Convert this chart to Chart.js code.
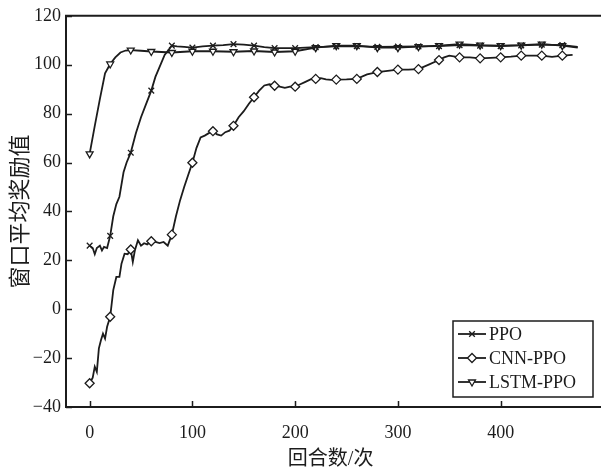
<!DOCTYPE html>
<html>
<head>
<meta charset="utf-8">
<script src="https://cdn.jsdelivr.net/npm/chart.js@4"></script>
<style>
  html, body { margin: 0; padding: 0; background: #fff; }
  #wrap { width: 601px; height: 476px; }
</style>
</head>
<body>
<div id="wrap"><canvas id="rewardChart"></canvas></div>
<script>
const xTicks = [0, 100, 200, 300, 400];
const yTicks = [-40, -20, 0, 20, 40, 60, 80, 100, 120];
const seriesNames = ['PPO', 'CNN-PPO', 'LSTM-PPO'];

const ppoX = [0, 3, 5, 7, 10, 12, 14, 17, 20, 23, 26, 29, 33, 36, 40, 45, 50, 55, 60, 64, 68, 73, 80, 85, 92, 100,
  110, 120, 130, 140, 150, 160, 170, 180, 190, 200, 220, 240, 260, 280, 300, 320, 340, 360, 380, 400, 420, 440, 460, 475];
const ppoY = [26, 25, 22.5, 25, 26, 24, 25.5, 25, 30, 38, 43, 46, 56, 60, 64, 72, 78.5, 84, 89.4, 95, 99, 104, 107.8, 107.5, 107.3, 107,
  107.5, 107.8, 108, 108.4, 108.2, 107.8, 107.2, 106.8, 106.8, 106.8, 107.2, 107.5, 107.6, 107.3, 107.4, 107.5, 107.6, 108, 107.8, 107.6, 107.9, 108.2, 108, 107.3];

const cnnX = [0, 3, 5, 7, 9, 11, 13, 15, 17, 20, 23, 26, 29, 31, 34, 37, 40, 42, 44, 47, 50, 53, 56, 60, 64, 68, 72, 76, 80,
  84, 88, 92, 96, 100, 104, 108, 112, 116, 120, 124, 128, 132, 136, 140, 145, 150, 155, 160, 165, 170, 175, 180, 185, 190, 195,
  200, 205, 210, 215, 220, 225, 230, 235, 240, 250, 260, 270, 280, 290, 300, 310, 320, 330, 340, 345, 350, 360, 370, 380, 390,
  400, 410, 420, 430, 440, 450, 460, 470];
const cnnY = [-30.3, -28, -23.5, -25.6, -16, -12.7, -10, -12, -7.2, -3.1, 7.8, 13.2, 13.2, 18.6, 22.7, 22.5, 24.4, 19.3, 24, 28.2, 26, 27, 26.5, 27.8, 27.5, 27, 27.5, 26, 30.5,
  38, 44.5, 50, 55, 59.9, 66, 70.3, 71, 72, 72.8, 71.5, 71, 72.4, 73, 75, 78.5, 81, 84, 86.7, 89.4, 91.5, 92, 91.4, 91, 90.5, 91,
  91, 92, 93, 94, 94.2, 94.5, 94, 93.8, 93.9, 94, 94.2, 96, 97, 97.5, 98, 98, 98.2, 100, 101.9, 103, 103.7, 103, 103, 102.6, 102.8,
  103, 103.3, 103.7, 103.7, 103.7, 103.2, 103.7, 104];

const lstmX = [0, 5, 10, 15, 20, 25, 30, 35, 40, 50, 60, 70, 80, 100, 120, 140, 160, 180, 200, 220, 240, 260, 280, 300,
  320, 340, 360, 380, 400, 420, 440, 460, 475];
const lstmY = [63.5, 75, 86, 96.5, 100.3, 103, 105, 105.8, 106, 105.7, 105.4, 105.2, 105, 105.5, 105.5, 105.3, 105.6, 105.2, 105.5, 107, 107.8, 107.8, 107, 107,
  107.4, 107.8, 108.4, 108, 107.8, 108, 108.4, 107.8, 107];

const ink = '#1c1c1c';
const serif = '"Liberation Serif", "Times New Roman", serif';
const cjk = '"Liberation Serif", "Noto Sans CJK SC", serif';

function pts(xs, ys) {
  return xs.map((x, i) => ({ x, y: ys[i] }));
}

// marker every 20 episodes, like the original figure
function markerRadius(r) {
  return (ctx) => (ctx.raw && ctx.raw.x % 20 === 0 ? r : 0);
}

function series(label, xs, ys, style, r, rot) {
  return {
    label,
    data: pts(xs, ys),
    borderColor: ink,
    borderWidth: 1.8,
    backgroundColor: '#fff',
    pointStyle: style,
    pointRotation: rot || 0,
    pointRadius: markerRadius(r),
    pointBorderColor: ink,
    pointBorderWidth: 1.3,
    pointBackgroundColor: '#fff',
    tension: 0,
    fill: false
  };
}

const datasets = [
  series(seriesNames[0], ppoX, ppoY, 'crossRot', 4),
  series(seriesNames[1], cnnX, cnnY, 'rectRot', 4.5),
  series(seriesNames[2], lstmX, lstmY, 'triangle', 4, 180)
];

// frame + inward ticks + boxed legend
const framePlugin = {
  id: 'frame',
  afterDraw(chart) {
    const { ctx, chartArea: a, scales } = chart;
    const edge = chart.width;
    ctx.save();
    ctx.strokeStyle = ink;
    ctx.lineWidth = 2;
    ctx.beginPath();
    ctx.moveTo(edge, a.top);
    ctx.lineTo(a.left, a.top);
    ctx.lineTo(a.left, a.bottom);
    ctx.lineTo(edge, a.bottom);
    ctx.stroke();

    ctx.lineWidth = 1.5;
    ctx.beginPath();
    xTicks.forEach((v) => {
      const px = Math.round(scales.x.getPixelForValue(v)) + 0.5;
      ctx.moveTo(px, a.bottom);
      ctx.lineTo(px, a.bottom - 6);
    });
    yTicks.forEach((v) => {
      const py = Math.round(scales.y.getPixelForValue(v)) + 0.5;
      ctx.moveTo(a.left, py);
      ctx.lineTo(a.left + 6, py);
    });
    ctx.stroke();

    // legend
    const bw = 140, bh = 76;
    const bx = edge - 148, by = a.bottom - 86;
    ctx.fillStyle = '#fff';
    ctx.fillRect(bx, by, bw, bh);
    ctx.lineWidth = 1.5;
    ctx.strokeRect(bx, by, bw, bh);
    ctx.font = '18px ' + serif;
    ctx.textBaseline = 'middle';
    datasets.forEach((ds, i) => {
      const cy = by + 13 + i * 24;
      ctx.strokeStyle = ink;
      ctx.lineWidth = 1.8;
      ctx.beginPath();
      ctx.moveTo(bx + 5, cy);
      ctx.lineTo(bx + 33, cy);
      ctx.stroke();
      ctx.fillStyle = '#fff';
      ctx.lineWidth = 1.3;
      Chart.helpers.drawPoint(ctx, {
        pointStyle: ds.pointStyle,
        rotation: ds.pointRotation,
        radius: ds.pointStyle === 'rectRot' ? 4.5 : 4,
        borderWidth: 1.3
      }, bx + 19, cy);
      ctx.fillStyle = ink;
      ctx.fillText(ds.label, bx + 36, cy + 1);
    });
    ctx.restore();
  }
};

new Chart(document.getElementById('rewardChart'), {
  type: 'line',
  data: { datasets },
  plugins: [framePlugin],
  options: {
    responsive: true,
    maintainAspectRatio: false,
    animation: false,
    layout: { padding: { top: 15, right: 0, left: 0, bottom: 0 } },
    plugins: { legend: { display: false }, tooltip: { enabled: false } },
    scales: {
      x: {
        type: 'linear',
        min: -23,
        max: 492,
        afterBuildTicks: (s) => { s.ticks = xTicks.map((v) => ({ value: v })); },
        afterFit: (s) => { s.height = 69; },
        grid: { display: false, drawTicks: false },
        border: { display: false },
        ticks: { color: ink, padding: 15, font: { family: serif, size: 18 } },
        title: { display: true, text: '回合数/次', color: ink, padding: { top: 8 }, font: { family: cjk, size: 20 } }
      },
      y: {
        min: -40,
        max: 120,
        afterBuildTicks: (s) => { s.ticks = yTicks.map((v) => ({ value: v })); },
        afterFit: (s) => { s.width = 66; },
        grid: { display: false, drawTicks: false },
        border: { display: false },
        ticks: {
          color: ink,
          padding: 5,
          font: { family: serif, size: 18 },
          callback: (v) => (v < 0 ? '\u2212' + Math.abs(v) : String(v))
        },
        title: { display: true, text: '窗口平均奖励值', color: ink, padding: { top: 8, bottom: 0 }, font: { family: cjk, size: 22 } }
      }
    }
  }
});
</script>
</body>
</html>
